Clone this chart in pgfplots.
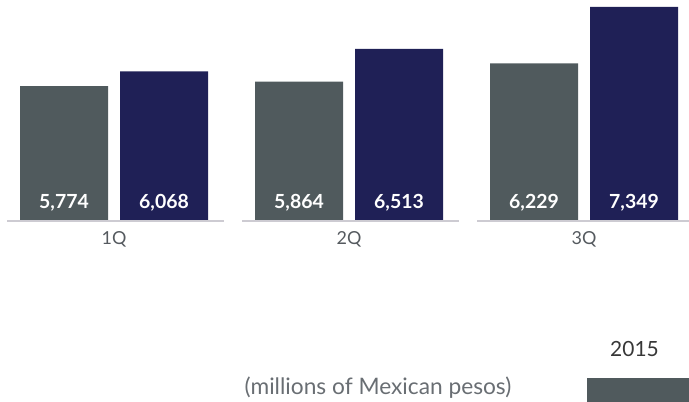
\documentclass[border=0pt]{standalone}
\usepackage{pgfplots}
\pgfplotsset{compat=1.18}
\usepackage{pgfplotstable}
\usepackage{fontspec}
\setmainfont{Lato}
\definecolor{bargray}{RGB}{80,90,93}
\definecolor{barnavy}{RGB}{31,32,86}
\definecolor{basegray}{RGB}{205,203,210}
\definecolor{labgray}{RGB}{85,90,95}
\definecolor{notegray}{RGB}{105,110,115}
\definecolor{legtext}{RGB}{55,55,55}
\pgfplotstableread{
x v2015 v2016
0 5774 6068
1 5864 6513
2 6229 7349
}\data
\begin{document}
\begin{tikzpicture}
\begin{axis}[
  at={(0bp,181bp)}, anchor=south west,
  scale only axis, width=689bp, height=221bp,
  xmin=-0.48511, xmax=2.44681,
  ymin=3100, ymax=7485,
  axis line style={draw=none},
  ytick=\empty,
  xtick={0,1,2}, xticklabels={1Q,2Q,3Q},
  major tick length=0pt, tick style={draw=none},
  xticklabel style={font=\fontsize{18}{20}\selectfont, text=labgray, anchor=base, yshift=-24bp},
  clip mode=individual,
  /pgf/number format/assume math mode=true,
  /pgf/number format/1000 sep={,},
]
\addplot[ybar, bar width=88bp, bar shift=-50bp, fill=bargray, draw=none] table[x=x, y=v2015]{\data};
\addplot[ybar, bar width=88bp, bar shift=50bp, fill=barnavy, draw=none] table[x=x, y=v2016]{\data};
\addplot[draw=none, nodes near coords, point meta=explicit,
  every node near coord/.style={anchor=base, text=white, font=\bfseries\fontsize{19.5}{22}\selectfont}]
  table[x expr=\thisrow{x}-0.21277, y expr=3352, meta=v2015]{\data};
\addplot[draw=none, nodes near coords, point meta=explicit,
  every node near coord/.style={anchor=base, text=white, font=\bfseries\fontsize{19.5}{22}\selectfont}]
  table[x expr=\thisrow{x}+0.21277, y expr=3352, meta=v2016]{\data};
\draw[basegray, line width=1.5bp] (axis cs:-0.4553,3100) -- (axis cs:0.4681,3100);
\draw[basegray, line width=1.5bp] (axis cs:0.5447,3100) -- (axis cs:1.4681,3100);
\draw[basegray, line width=1.5bp] (axis cs:1.5447,3100) -- (axis cs:2.44681,3100);
\end{axis}
\node[anchor=base, text=legtext, font=\fontsize{21}{24}\selectfont] at (634.5bp,45bp) {2015};
\fill[bargray] (587bp,0bp) rectangle (689bp,24bp);
\node[anchor=base, text=notegray, font=\fontsize{22.8}{26}\selectfont] at (378bp,8bp) {(millions of Mexican pesos)};
\pgfresetboundingbox
\useasboundingbox (0bp,0bp) rectangle (689bp,402bp);
\end{tikzpicture}
\end{document}
